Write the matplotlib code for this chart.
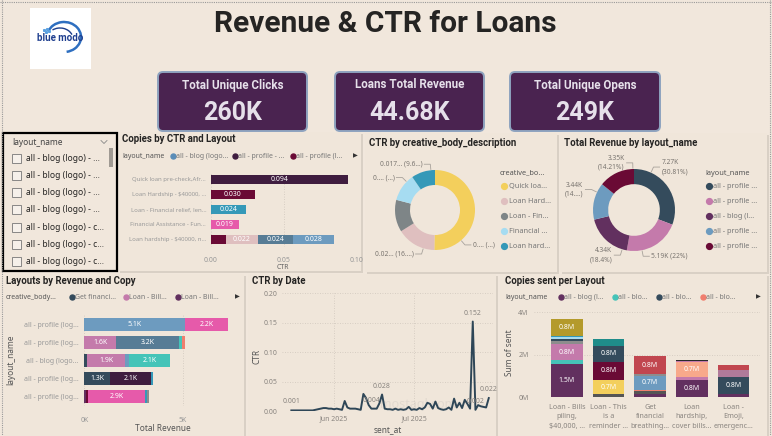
import numpy as np
import pandas as pd
import matplotlib.pyplot as plt
import matplotlib.dates as mdates
from matplotlib.patches import FancyBboxPatch, Rectangle, Arc

# ---------------- data ----------------
kpi_titles = ["Total Unique Clicks", "Loans Total Revenue", "Total Unique Opens"]
kpi_values = ["260K", "44.68K", "249K"]

slicer_items = ["all - blog (logo) - ..."] * 4 + ["all - blog (logo) - c..."] * 3

# Copies by CTR and Layout
ctr_copies = ["Quick loan pre-check,Afr...", "Loan Hardship - $40000, ...",
              "Loan - Financial relief, len...", "Financial Assistance - Fun...",
              "Loan hardship - $40000, n..."]
ctr_segments = [[0.094], [0.030], [0.024], [0.019], [0.010, 0.022, 0.024, 0.028]]
ctr_legend = ["all - blog (logo...", "all - profile - ...", "all - profile (l..."]

# CTR by creative_body_description
body_names = ["Quick loa...", "Loan Hard...", "Loan - Fin...", "Financial ...", "Loan hard..."]
body_ctr = [0.089, 0.028, 0.023, 0.020, 0.017]
body_labels = ["0.... (...)", "0.02... (16....)", "", "0.... (...)", "0.017... (9.6...)"]

# Total Revenue by layout_name (K)
rev_names = ["all - profile ...", "all - profile ...", "all - blog (l...",
             "all - profile ...", "all - profile ..."]
rev_values = [7.27, 5.19, 4.34, 3.44, 3.35]
rev_labels = ["7.27K\n(30.81%)", "5.19K (22%)", "4.34K\n(18.4%)", "3.44K\n(14....)", "3.35K\n(14.21%)"]

# Layouts by Revenue and Copy (K)
lay_names = ["all - profile (log...", "all - profile (log...", "all - blog (logo...",
             "all - profile (log...", "all - profile (log..."]
lay_segments = [[5.1, 2.2], [1.6, 3.2, 0.15, 0.15], [0.15, 1.9, 0.2, 2.1],
                [1.3, 2.1, 0.1], [0.1, 0.1, 2.9, 0.1, 0.1]]
lay_legend = ["Get financi...", "Loan - Bill...", "Loan - Bill..."]

# CTR by Date
ctr_start = "2025-05-16"
ctr_daily = [0.001, 0.001, 0.001, 0.001, 0.001, 0.001, 0.001, 0.001, 0.001, 0.002,
             0.003, 0.004, 0.005, 0.005, 0.004, 0.004, 0.003, 0.004, 0.003, 0.002,
             0.017, 0.006, 0.004, 0.004, 0.004, 0.003, 0.002, 0.029, 0.022, 0.010,
             0.004, 0.004, 0.004, 0.013, 0.028, 0.004, 0.003, 0.003, 0.002, 0.004,
             0.002, 0.003, 0.002, 0.003, 0.007, 0.002, 0.003, 0.002, 0.005, 0.003,
             0.006, 0.014, 0.012, 0.004, 0.016, 0.005, 0.003, 0.002, 0.003, 0.006,
             0.002, 0.021, 0.006, 0.014, 0.005, 0.019, 0.012, 0.004, 0.152, 0.002,
             0.010, 0.008, 0.007, 0.006, 0.022]
ctr_labelled = [0, 30, 34, 68, 69, 74]

# Copies sent per Layout (M)
sent_copies = ["Loan - Bills\npiling,\n$40,000, ...", "Loan - This\nis a\nreminder ...",
               "Get\nfinancial\nbreathing...", "Loan\nhardship,\ncover bills...",
               "Loan -\nEmoji,\nemergenc..."]
sent_segments = [[1.54, 0.19, 0.75, 0.15, 0.10, 0.08, 0.07, 0.80],
                 [0.12, 0.70, 0.82, 0.78, 0.31],
                 [0.12, 0.15, 0.08, 0.66, 0.08, 0.82],
                 [0.78, 0.16, 0.70, 0.05, 0.06],
                 [0.16, 0.78, 0.31, 0.24]]
sent_legend = ["all - blog (l...", "all - blo...", "all - blo...", "all - blo..."]

# ---------------- styles ----------------
BG = "#F1E7DC"
SLATE, DPURPLE, MAROON = "#344B5C", "#3F1D3F", "#6A0A35"
TEALB, HOTPINK, PALEPINK = "#3599B8", "#E65AAA", "#DFBFBF"
STEEL, LBLUE, MAUVE, PURPLE = "#577C95", "#6D9BBF", "#C47AAB", "#62305F"
TURQ, SALMON, YELLOW, GRAY = "#45C4B8", "#F07E6E", "#F3CF5C", "#7E8587"
SKY, OLIVE, DTEAL, RED = "#A6DCF1", "#B49A2B", "#1F8C8A", "#C1464F"
PEACH, MGRAY, DGRAY, BLACK = "#F8A98B", "#8D8D8D", "#555555", "#2B2B2B"

ctr_colors = [[DPURPLE], [MAROON], [TEALB], [HOTPINK], [MAROON, PALEPINK, STEEL, LBLUE]]
ctr_legend_colors = ["#5B8DB8", DPURPLE, MAROON]
body_colors = [YELLOW, PALEPINK, GRAY, SKY, TEALB]
body_attach = [0.77, 0.28, 0.5, 0.74, 0.83]
rev_colors = [SLATE, MAUVE, PURPLE, LBLUE, MAROON]
rev_attach = [0.22, 0.73, 0.10, 0.75, 0.97]
lay_colors = [[LBLUE, HOTPINK], [MAUVE, STEEL, TURQ, SALMON], [SLATE, MAUVE, LBLUE, TURQ],
              [SLATE, DPURPLE, TEALB], [PURPLE, MAROON, HOTPINK, TEALB, MGRAY]]
lay_legend_colors = [SLATE, MAUVE, PURPLE]
sent_colors = [[PURPLE, TURQ, MAUVE, MGRAY, SLATE, SKY, TEALB, OLIVE],
               [DGRAY, YELLOW, MAROON, SLATE, DTEAL],
               [PURPLE, DGRAY, SALMON, LBLUE, MGRAY, RED],
               [PURPLE, MAUVE, PEACH, MAUVE, BLACK],
               [PURPLE, SLATE, "#B07A9A", RED]]
sent_legend_colors = [PURPLE, TURQ, SLATE, SALMON]

HEAD = ["Roboto", "DejaVu Sans"]
SANS = ["Noto Sans", "DejaVu Sans"]
plt.rcParams["font.family"] = SANS
TXT = "#252423"

W, H = 772, 436
fig = plt.figure(figsize=(W / 100, H / 100), dpi=100, facecolor=BG)
bg = fig.add_axes([0, 0, 1, 1])
bg.set_xlim(0, W)
bg.set_ylim(H, 0)
bg.axis("off")


def px_axes(x0, y0, x1, y1):
    ax = fig.add_axes([x0 / W, 1 - y1 / H, (x1 - x0) / W, (y1 - y0) / H])
    ax.set_facecolor("none")
    return ax


def panel(x0, y0, x1, y1):
    bg.add_patch(Rectangle((x0 + 1.5, y0 + 1.5), x1 - x0, y1 - y0, color="#D9D0C5", lw=0))
    bg.add_patch(Rectangle((x0, y0), x1 - x0, y1 - y0, color="#F0E6DA", lw=0))


def chart_title(x, y, s):
    bg.text(x, y, s, fontsize=6.9, weight="bold", color=TXT, va="center", family=HEAD)


def legend_row(y, title, x_title, items, colors, xs, x_arrow):
    bg.text(x_title, y, title, fontsize=5, weight="bold", color="#555", va="center")
    for lab, c, x in zip(items, colors, xs):
        bg.plot(x, y, "o", ms=3.6, color=c)
        bg.text(x + 3, y, lab, fontsize=5, color="#777", va="center")
    bg.text(x_arrow, y, "\u25B6", fontsize=4.5, color="#333", va="center", ha="center",
            family="DejaVu Sans")


# frame
bg.plot([0, W], [2.5, 2.5], ls=(0, (1, 1)), color="#999", lw=0.8)
bg.plot([1.5, 1.5], [0, H], ls=(0, (1, 1)), color="#999", lw=0.8)
bg.plot([769.5, 769.5], [0, H], ls=(0, (1, 1)), color="#999", lw=0.8)

# logo
bg.add_patch(Rectangle((30, 8), 61, 61, color="white", lw=0))
bg.add_patch(Arc((64, 37), 34, 30, theta1=200, theta2=80, color="#2E6FC0", lw=1.8))
bg.add_patch(Arc((60, 39), 26, 22, theta1=230, theta2=340, color="#1C3E8C", lw=1.0))
for dx, dy in [(-8, -6), (-5, -7), (-6, -4), (-3, -5)]:
    bg.plot(52 + dx, 36 + dy, "s", ms=1.2, color="#5AA0E0")
bg.text(60, 38, "blue modo", fontsize=7, weight="bold", color="#1F3F8F",
        ha="center", va="center", family=HEAD)

# title
bg.text(385, 24, "Revenue & CTR for Loans", fontsize=21.5, weight="bold", color=TXT,
        ha="center", va="center", family=HEAD)

# KPI cards
for (x0, x1), t, v in zip([(158, 307), (335, 484), (510, 660)], kpi_titles, kpi_values):
    bg.add_patch(FancyBboxPatch((x0, 72), x1 - x0, 59, boxstyle="round,pad=0,rounding_size=5",
                                fc="#4A2350", ec="#8EA3BF", lw=1.4))
    cx = (x0 + x1) / 2
    bg.text(cx, 85, t, fontsize=8.4, weight="bold", color="#E6E0EA", ha="center", va="center",
            family=HEAD)
    bg.text(cx, 113, v, fontsize=18, weight="bold", color="#E6E0EA", ha="center",
            va="center", family=HEAD)

# panels
panel(118, 132, 361, 271)
panel(365, 133, 557, 272)
panel(560, 133, 767, 272)
panel(4, 274, 244, 436)
panel(248, 274, 496, 436)
panel(500, 274, 767, 436)

# slicer
bg.add_patch(Rectangle((3, 133), 114, 138, fc=BG, ec="black", lw=1.6))
bg.text(12, 142, "layout_name", fontsize=6, color="#444", va="center")
bg.plot([101, 104, 107], [140.5, 143.5, 140.5], color="#888", lw=0.6)
bg.add_patch(Rectangle((108.5, 148), 4.5, 19, color="#A09A93", lw=0))
for i, item in enumerate(slicer_items):
    y = 158 + i * 17.3
    bg.add_patch(Rectangle((12, y - 4.5), 9, 9, fc="#F6F0EA", ec="#777", lw=0.6))
    bg.text(26.5, y, item, fontsize=6.1, color=TXT, va="center")

# ---- Copies by CTR and Layout ----
chart_title(122, 138.5, "Copies by CTR and Layout")
legend_row(156, "layout_name", 122, ctr_legend, ctr_legend_colors, [173, 235, 293], 355)
ax = px_axes(211, 171.8, 357, 246.8)
for i, (vals, cols) in enumerate(zip(ctr_segments, ctr_colors)):
    left = 0
    for v, c in zip(vals, cols):
        ax.barh(i, v, left=left, height=0.62, color=c, lw=0)
        if v >= 0.015:
            ax.text(left + v / 2, i, f"{v:.3f}", ha="center", va="center", color="white",
                    fontsize=5)
        left += v
ax.set_xlim(0, 0.1)
ax.set_ylim(4.5, -0.5)
ax.set_yticks(range(len(ctr_copies)), ctr_copies)
ax.set_xticks([0, 0.05, 0.1], ["0.00", "0.05", "0.10"])
ax.tick_params(length=0, labelsize=4.3, labelcolor="#999")
ax.tick_params(axis="x", pad=7, labelsize=5)
ax.grid(axis="x", ls=(0, (1, 2)), color="#CFC6BB", lw=0.6)
ax.set_axisbelow(True)
for s in ax.spines.values():
    s.set_visible(False)
bg.text(283, 267, "CTR", fontsize=5, color="#666", ha="center", va="center")


# ---- donuts ----
def donut(cx, cy, r, values, colors, width, labels, attach):
    ax = px_axes(cx - r, cy - r, cx + r, cy + r)
    ax.pie(values, colors=colors, startangle=90, counterclock=False, radius=1,
           wedgeprops=dict(width=width, lw=0))
    ax.set_xlim(-1, 1)
    ax.set_ylim(-1, 1)
    total = sum(values)
    start = 0
    for v, lab, f in zip(values, labels, attach):
        if lab:
            ang = np.deg2rad(90 - 360 * (start + f * v) / total)
            x1, y1 = np.cos(ang), np.sin(ang)
            ex, ey = 1.15 * x1, 1.15 * y1
            sgn = 1 if x1 >= 0 else -1
            tx = ex + sgn * 0.15
            ax.plot([1.02 * x1, ex, tx], [1.02 * y1, ey, ey], color="#A8A29B", lw=0.6,
                    clip_on=False)
            ax.text(tx + sgn * 0.05, ey, lab, ha="left" if sgn > 0 else "right",
                    va="center", fontsize=4.8, color="#7A7570", clip_on=False,
                    linespacing=1.4)
        start += v
    return ax


chart_title(369, 143, "CTR by creative_body_description")
donut(435, 210, 40, body_ctr, body_colors, 0.375, body_labels, body_attach)
bg.text(500, 173, "creative_bo...", fontsize=5.3, weight="bold", color="#555", va="center")
for i, (n, c) in enumerate(zip(body_names, body_colors)):
    y = 186 + i * 15
    bg.plot(504, y, "o", ms=4.2, color=c)
    bg.text(509, y, n, fontsize=5.3, color="#777", va="center")

chart_title(564, 143, "Total Revenue by layout_name")
donut(634, 210, 41, rev_values, rev_colors, 0.37, rev_labels, rev_attach)
bg.text(705, 173, "layout_name", fontsize=5.3, weight="bold", color="#555", va="center")
for i, (n, c) in enumerate(zip(rev_names, rev_colors)):
    y = 186 + i * 15
    bg.plot(709, y, "o", ms=4.2, color=c)
    bg.text(713, y, n, fontsize=5.3, color="#777", va="center")

# ---- Layouts by Revenue and Copy ----
chart_title(6, 281, "Layouts by Revenue and Copy")
legend_row(297, "creative_body...", 6, lay_legend, lay_legend_colors, [72, 126, 178], 237)
ax = px_axes(84.3, 315.3, 240, 405.7)
for i, (vals, cols) in enumerate(zip(lay_segments, lay_colors)):
    left = 0
    for v, c in zip(vals, cols):
        ax.barh(i, v, left=left, height=0.74, color=c, lw=0)
        if v >= 1:
            ax.text(left + v / 2, i, f"{v:.1f}K", ha="center", va="center", color="white",
                    fontsize=5)
        left += v
ax.set_xlim(0, (240 - 84.3) / 19.7)
ax.set_ylim(4.5, -0.5)
ax.set_yticks(range(len(lay_names)), lay_names)
ax.set_xticks([0, 5], ["0K", "5K"])
ax.tick_params(length=0, labelsize=5, labelcolor="#999", pad=4)
ax.tick_params(axis="x", pad=8)
ax.grid(axis="x", ls=(0, (1, 2)), color="#CFC6BB", lw=0.6)
ax.set_axisbelow(True)
for s in ax.spines.values():
    s.set_visible(False)
bg.text(11, 360, "layout_name", fontsize=6, color="#555", ha="center", va="center",
        rotation=90)
bg.text(163, 428, "Total Revenue", fontsize=6, color="#555", ha="center", va="center")

# ---- CTR by Date ----
chart_title(252, 281, "CTR by Date")
dates = pd.date_range(ctr_start, periods=len(ctr_daily), freq="D")
bg.text(418, 404, "mostaql.com", fontsize=9, color="#999", alpha=0.16, ha="center",
        va="center", weight="bold")
ax = px_axes(282, 293.3, 493, 411)
ax.plot(dates, ctr_daily, color="#2E4657", lw=1.4)
for i in ctr_labelled:
    ax.annotate(f"{ctr_daily[i]:.3f}", (dates[i], ctr_daily[i]), xytext=(0, 5),
                textcoords="offset points", ha="center", fontsize=5, color="#8A8580")
ax.set_xlim(pd.Timestamp("2025-05-12 12:00"), pd.Timestamp("2025-07-30 14:00"))
ax.set_ylim(0, 0.2)
ax.set_yticks([0, 0.05, 0.1, 0.15, 0.2], ["0.00", "0.05", "0.10", "0.15", "0.20"])
ax.xaxis.set_major_locator(mdates.MonthLocator())
ax.xaxis.set_major_formatter(mdates.DateFormatter("%b %Y"))
ax.tick_params(length=0, labelsize=5, labelcolor="#8A8580", pad=3)
ax.grid(ls=(0, (1, 2)), color="#CFC6BB", lw=0.6)
ax.set_axisbelow(True)
for s in ax.spines.values():
    s.set_visible(False)
bg.text(257, 356, "CTR", fontsize=6, color="#555", ha="center", va="center", rotation=90)
bg.text(388, 430, "sent_at", fontsize=6, color="#555", ha="center", va="center")

# ---- Copies sent per Layout ----
chart_title(505, 281, "Copies sent per Layout")
legend_row(297, "layout_name", 505, sent_legend, sent_legend_colors, [561, 615, 659, 703], 758)
ax = px_axes(534, 312, 760, 397)
for i, (vals, cols) in enumerate(zip(sent_segments, sent_colors)):
    bottom = 0
    for v, c in zip(vals, cols):
        ax.bar(i, v, bottom=bottom, width=0.76, color=c, lw=0)
        if v >= 0.6:
            ax.text(i, bottom + v / 2, f"{v:.1f}M", ha="center", va="center", color="white",
                    fontsize=5)
        bottom += v
ax.set_xlim(-0.79, 4.64)
ax.set_ylim(0, 4)
ax.set_yticks([0, 2, 4], ["0M", "2M", "4M"])
ax.set_xticks(range(len(sent_copies)), sent_copies)
ax.tick_params(length=0, labelsize=5, labelcolor="#8A8580", pad=4)
ax.tick_params(axis="x", labelsize=5.2, pad=5)
for t in ax.get_xticklabels():
    t.set_linespacing(1.5)
ax.grid(axis="y", ls=(0, (1, 2)), color="#CFC6BB", lw=0.6)
ax.set_axisbelow(True)
for s in ax.spines.values():
    s.set_visible(False)
bg.text(510, 353, "Sum of sent", fontsize=6, color="#555", ha="center", va="center",
        rotation=90)

fig.savefig("out.png", dpi=100, facecolor=BG)
